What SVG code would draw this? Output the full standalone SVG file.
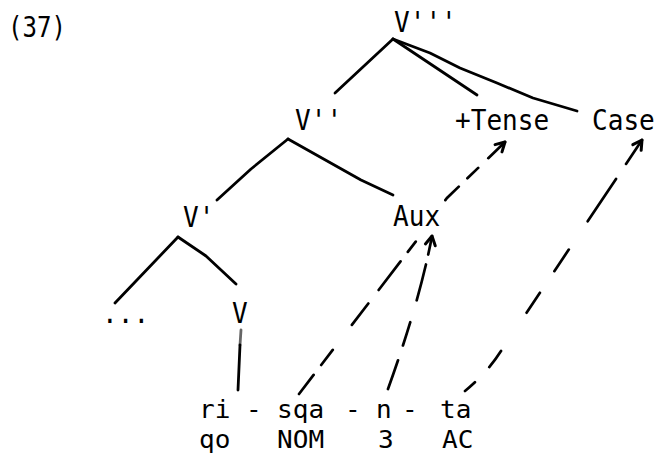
<svg xmlns="http://www.w3.org/2000/svg" width="666" height="453" viewBox="0 0 666 453">
  <style>
    .t { font-family: "DejaVu Sans Mono", "Liberation Mono", monospace; font-size: 28px; fill: #000; }
    .row { font-size: 25px; }
    .branch { fill: none; stroke: #000; stroke-width: 2.8; stroke-linecap: round; stroke-linejoin: round; }
    .move { fill: none; stroke: #000; stroke-width: 2.7; stroke-linecap: round; marker-end: url(#head); }
  </style>
  <defs>
    <marker id="head" markerUnits="userSpaceOnUse" markerWidth="20" markerHeight="20" refX="0" refY="0" viewBox="-12 -10 16 20" orient="auto" overflow="visible">
      <path d="M-9,-5 L0,0 L-9,5" fill="none" stroke="#000" stroke-width="3" stroke-dasharray="none" stroke-linecap="round" stroke-linejoin="round"/>
    </marker>
  </defs>
  <rect width="666" height="453" fill="#fff"/>

  <!-- example number -->
  <text id="label-37" class="t" x="8" y="37" textLength="58" lengthAdjust="spacingAndGlyphs">(37)</text>

  <!-- tree branches -->
  <g id="branches">
    <path class="branch" d="M393,39 L335,93"/>
    <path class="branch" d="M393,39 L477,95"/>
    <path class="branch" d="M393,39 L430,53 L460,68 L497,83 L533,98 L577,111"/>
    <path class="branch" d="M288,139 L251,169 L217,200"/>
    <path class="branch" d="M288,139 L361,180 L393,195"/>
    <path class="branch" d="M178,237 L115,303"/>
    <path class="branch" d="M178,237 L206,256 L236,284"/>
    <path class="branch" d="M241,330 L240,345" stroke-width="1.4" opacity="0.6"/>
    <path class="branch" d="M240,345 L238,390"/>
  </g>

  <!-- movement arrows -->
  <g id="connectors">
    <path id="sqa-to-tense" class="move" d="M299,394 L420,236 Q432,217 447,198 L505,142"
          stroke-dasharray="24 12.5 19 31.5 27 17 36 12 13 51 19 12 15 14 40"/>
    <path id="n-to-aux" class="move" d="M388,389 Q420,300 432,236"
          stroke-dasharray="30 16 24 23 37 10 40"/>
    <path id="ta-to-case" class="move" d="M465,391 Q487,373 501,351 L642,140"
          stroke-dasharray="13 21 20 46 24 26 26 34 51 18 40"/>
  </g>

  <!-- nodes -->
  <g id="node-v3"><text class="t" x="394" y="32" textLength="62.8" lengthAdjust="spacingAndGlyphs">V'''</text></g>
  <g id="node-v2"><text class="t" x="295" y="130" textLength="47.1" lengthAdjust="spacingAndGlyphs">V''</text></g>
  <g id="node-tense"><text class="t" x="455" y="130" textLength="94.2" lengthAdjust="spacingAndGlyphs">+Tense</text></g>
  <g id="node-case"><text class="t" x="592" y="130" textLength="62.8" lengthAdjust="spacingAndGlyphs">Case</text></g>
  <g id="node-v1"><text class="t" x="183" y="227" textLength="31.4" lengthAdjust="spacingAndGlyphs">V'</text></g>
  <g id="node-aux"><text class="t" x="393" y="226" textLength="47.1" lengthAdjust="spacingAndGlyphs">Aux</text></g>
  <g id="node-dots"><text class="t" x="102" y="323" textLength="47.1" lengthAdjust="spacingAndGlyphs">...</text></g>
  <g id="node-v"><text class="t" x="232" y="323" textLength="15.7" lengthAdjust="spacingAndGlyphs">V</text></g>

  <!-- morpheme line and gloss -->
  <g id="morphemes">
    <text class="t row" x="199" y="417.5" textLength="31.4" lengthAdjust="spacingAndGlyphs">ri</text>
    <text class="t row" x="246" y="417.5" textLength="15.7" lengthAdjust="spacingAndGlyphs">-</text>
    <text class="t row" x="277" y="417.5" textLength="47.1" lengthAdjust="spacingAndGlyphs">sqa</text>
    <text class="t row" x="345" y="417.5" textLength="15.7" lengthAdjust="spacingAndGlyphs">-</text>
    <text class="t row" x="376" y="417.5" textLength="15.7" lengthAdjust="spacingAndGlyphs">n</text>
    <text class="t row" x="402" y="417.5" textLength="15.7" lengthAdjust="spacingAndGlyphs">-</text>
    <text class="t row" x="440" y="417.5" textLength="31.4" lengthAdjust="spacingAndGlyphs">ta</text>
  </g>
  <g id="gloss">
    <text class="t row" x="199" y="448" textLength="31.4" lengthAdjust="spacingAndGlyphs">qo</text>
    <text class="t row" x="277" y="448" textLength="47.1" lengthAdjust="spacingAndGlyphs">NOM</text>
    <text class="t row" x="378" y="448" textLength="15.7" lengthAdjust="spacingAndGlyphs">3</text>
    <text class="t row" x="442" y="448" textLength="31.4" lengthAdjust="spacingAndGlyphs">AC</text>
  </g>
</svg>
